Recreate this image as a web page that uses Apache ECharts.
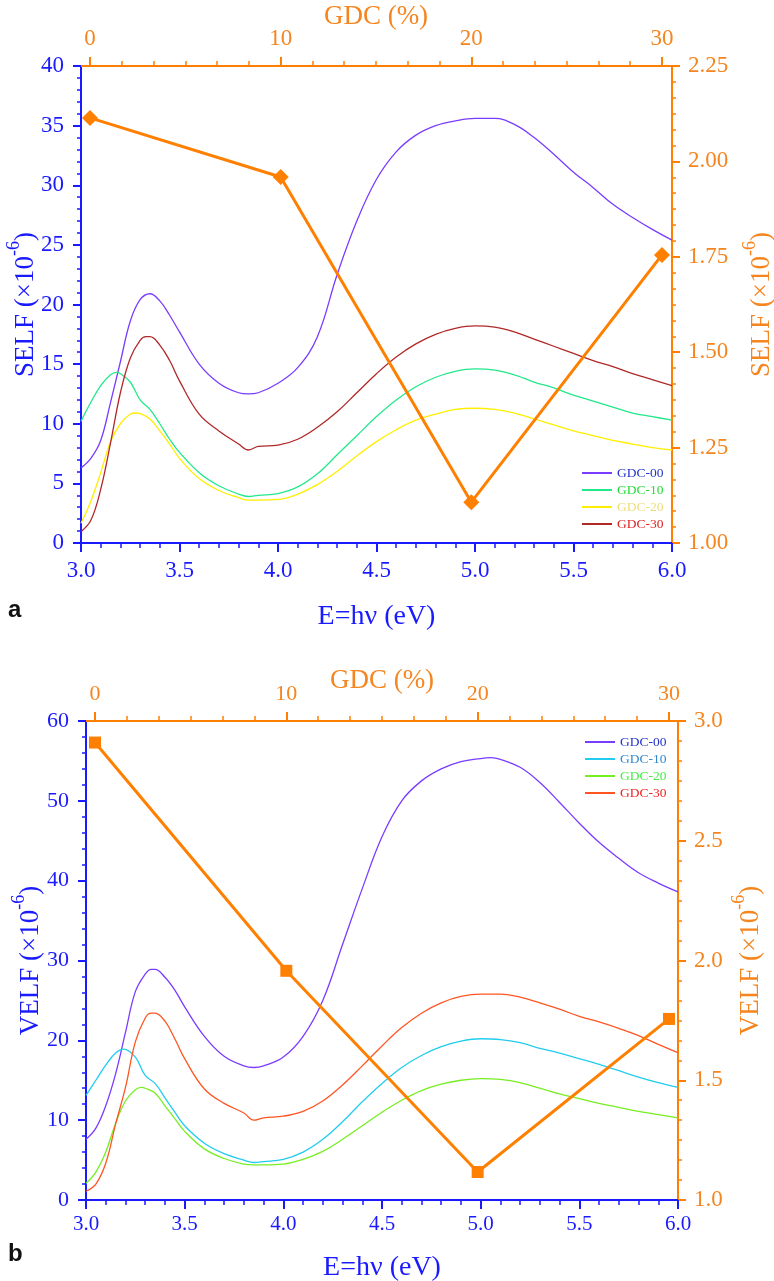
<!DOCTYPE html>
<html><head><meta charset="utf-8">
<script src="https://cdn.jsdelivr.net/npm/echarts@6/dist/echarts.min.js"></script>
<style>html,body{margin:0;padding:0;background:#fff}#c{width:774px;height:1281px}</style>
</head><body><div id="c"></div>
<script>
// ---------- data ----------
const gdcPct = [0, 10, 20, 30];
const selfGdc = [2.114, 1.959, 1.107, 1.755];
const velfGdc = [2.91, 1.957, 1.117, 1.756];

const eA00 = [3.0,3.05,3.1,3.15,3.2,3.25,3.3,3.35,3.4,3.45,3.5,3.6,3.7,3.8,3.85,3.9,4.0,4.1,4.2,4.3,4.4,4.5,4.6,4.7,4.8,4.9,5.0,5.1,5.2,5.3,5.4,5.5,5.6,5.7,5.8,5.9,6.0];
const selfA00 = [6.3,7.1,8.6,11.8,15.2,18.6,20.4,20.9,20.3,19.1,17.7,15.0,13.4,12.6,12.5,12.6,13.4,14.7,17.3,22.5,27.0,30.5,32.8,34.2,35.0,35.4,35.6,35.6,35.1,34.0,32.6,31.1,29.8,28.4,27.3,26.3,25.4];
const eA10 = [3.0,3.05,3.1,3.15,3.18,3.2,3.25,3.3,3.35,3.4,3.45,3.5,3.6,3.7,3.8,3.85,3.9,4.0,4.1,4.2,4.3,4.4,4.5,4.6,4.7,4.8,4.9,5.0,5.1,5.2,5.3,5.4,5.5,5.6,5.7,5.8,5.9,6.0];
const selfA10 = [10.2,11.8,13.2,14.1,14.3,14.2,13.5,12.0,11.2,10.0,8.7,7.6,5.9,4.8,4.1,3.9,4.0,4.15,4.7,5.8,7.4,9.0,10.6,12.0,13.1,13.9,14.4,14.6,14.5,14.1,13.5,13.0,12.4,11.9,11.4,10.9,10.6,10.3];
const eA20 = [3.0,3.05,3.1,3.15,3.2,3.25,3.28,3.3,3.35,3.4,3.45,3.5,3.6,3.7,3.8,3.85,3.9,4.0,4.1,4.2,4.3,4.4,4.5,4.6,4.7,4.8,4.9,5.0,5.1,5.2,5.3,5.4,5.5,5.6,5.7,5.8,5.9,6.0];
const selfA20 = [1.65,3.5,5.9,8.5,10.0,10.8,10.9,10.85,10.4,9.4,8.3,7.1,5.4,4.4,3.8,3.6,3.6,3.65,4.1,4.9,6.0,7.3,8.5,9.5,10.3,10.8,11.2,11.3,11.2,10.9,10.4,9.9,9.4,9.0,8.6,8.3,8.0,7.8];
const eA30 = [3.0,3.05,3.1,3.15,3.2,3.25,3.3,3.33,3.35,3.4,3.45,3.5,3.6,3.7,3.8,3.85,3.9,4.0,4.1,4.2,4.3,4.4,4.5,4.6,4.7,4.8,4.9,5.0,5.1,5.2,5.3,5.4,5.5,5.6,5.7,5.8,5.9,6.0];
const selfA30 = [0.95,1.9,4.5,8.4,12.6,15.5,17.0,17.3,17.3,16.6,15.3,13.6,10.8,9.4,8.3,7.8,8.1,8.2,8.7,9.7,11.0,12.6,14.2,15.6,16.7,17.5,18.0,18.2,18.1,17.7,17.1,16.5,15.9,15.3,14.8,14.2,13.7,13.2];

const eB00 = [3.0,3.05,3.1,3.15,3.2,3.25,3.3,3.33,3.35,3.4,3.45,3.5,3.6,3.7,3.8,3.85,3.9,4.0,4.1,4.2,4.3,4.4,4.5,4.6,4.7,4.8,4.9,5.0,5.05,5.1,5.2,5.3,5.4,5.5,5.6,5.7,5.8,5.9,6.0];
const velfB00 = [7.6,9.0,11.8,15.8,21.0,26.1,28.3,28.9,28.9,27.9,26.3,24.2,20.5,18.0,16.8,16.6,16.8,17.9,20.5,25.0,32.0,39.0,45.5,50.0,52.5,54.0,54.9,55.3,55.4,55.2,54.2,52.3,49.8,47.2,44.8,42.8,41.0,39.7,38.6];
const eB10 = [3.0,3.05,3.1,3.15,3.19,3.25,3.3,3.35,3.4,3.45,3.5,3.6,3.7,3.8,3.85,3.9,4.0,4.1,4.2,4.3,4.4,4.5,4.6,4.7,4.8,4.9,5.0,5.1,5.2,5.3,5.4,5.5,5.6,5.7,5.8,5.9,6.0];
const velfB10 = [13.1,15.0,16.9,18.4,18.9,17.9,15.6,14.6,12.8,11.0,9.3,7.1,5.8,5.0,4.7,4.8,5.1,6.0,7.6,9.8,12.3,14.6,16.6,18.1,19.2,19.9,20.2,20.1,19.7,19.0,18.4,17.7,17.0,16.2,15.4,14.7,14.1];
const eB20 = [3.0,3.05,3.1,3.15,3.2,3.25,3.28,3.3,3.35,3.4,3.45,3.5,3.6,3.7,3.8,3.85,3.9,4.0,4.1,4.2,4.3,4.4,4.5,4.6,4.7,4.8,4.9,5.0,5.1,5.2,5.3,5.4,5.5,5.6,5.7,5.8,5.9,6.0];
const velfB20 = [2.1,3.5,6.0,9.6,12.4,13.8,14.1,14.0,13.4,11.8,10.2,8.6,6.4,5.2,4.5,4.4,4.4,4.5,5.1,6.1,7.6,9.3,11.0,12.5,13.7,14.5,15.0,15.2,15.1,14.7,14.0,13.3,12.7,12.1,11.6,11.1,10.7,10.3];
const eB30 = [3.0,3.05,3.1,3.15,3.2,3.25,3.3,3.33,3.35,3.4,3.45,3.5,3.6,3.7,3.8,3.85,3.9,4.0,4.1,4.2,4.3,4.4,4.5,4.6,4.7,4.8,4.9,5.0,5.1,5.2,5.3,5.4,5.5,5.6,5.7,5.8,5.9,6.0];
const velfB30 = [1.1,2.0,4.6,9.5,14.1,19.8,22.8,23.4,23.4,22.4,20.2,17.7,13.9,12.1,10.9,10.0,10.3,10.5,11.1,12.4,14.4,16.8,19.3,21.6,23.4,24.7,25.5,25.8,25.8,25.4,24.7,23.9,23.0,22.3,21.5,20.6,19.5,18.45];

const legendNames = ['GDC-00','GDC-10','GDC-20','GDC-30'];

// ---------- styles ----------
const FONT = 'Liberation Serif';
const BLUE = '#1a1aff';
const ORANGE = '#ff8000';
const ORANGE_T = '#f5851f';
const colA = ['#7a3cff','#22e88a','#ffee00','#b02828'];
const txtA = ['#2233cc','#22dd33','#eedd77','#dd2222'];
const colB = ['#7a3cff','#22ccee','#77ee22','#ff5522'];
const txtB = ['#2233cc','#3388cc','#44ee44','#ee2222'];

function zip(xs, ys){ return xs.map((x,i)=>[x, ys[i]]); }

function bottomAxis(grid, fs, margin, gap){
  return {type:'value', gridIndex:grid, position:'bottom', min:3, max:6, interval:0.5,
    axisLine:{show:true, onZero:false, lineStyle:{color:BLUE, width:2}},
    axisTick:{show:true, length:9, lineStyle:{color:BLUE, width:2}},
    minorTick:{show:true, splitNumber:5, length:5, lineStyle:{color:BLUE, width:1.5}},
    splitLine:{show:false},
    axisLabel:{color:BLUE, fontFamily:FONT, fontSize:fs, margin:margin, formatter:v=>v.toFixed(1)},
    name:'E=hν (eV)', nameLocation:'middle', nameGap:gap, nameMoveOverlap:false,
    nameTextStyle:{color:BLUE, fontFamily:FONT, fontSize:28}};
}
function topLine(grid){
  return {type:'value', gridIndex:grid, position:'top', min:0, max:1,
    axisLine:{show:true, onZero:false, lineStyle:{color:ORANGE, width:2}},
    axisTick:{show:false}, axisLabel:{show:false}, splitLine:{show:false}};
}
function gdcAxis(grid, fs, margin, gap){
  return {type:'value', gridIndex:grid, position:'top', min:0, max:30, interval:10,
    axisLine:{show:false, onZero:false},
    axisTick:{show:true, length:9, lineStyle:{color:ORANGE, width:2}},
    minorTick:{show:true, splitNumber:6, length:5, lineStyle:{color:ORANGE, width:1.5}},
    splitLine:{show:false},
    axisLabel:{color:ORANGE_T, fontFamily:FONT, fontSize:fs, margin:margin},
    name:'GDC (%)', nameLocation:'middle', nameGap:gap, nameMoveOverlap:false,
    nameTextStyle:{color:ORANGE_T, fontFamily:FONT, fontSize:27}};
}
function richName(label, color){
  return {
    name:'{t|'+label+' (×10}{s|-6}{t|)}',
    nameTextStyle:{rich:{
      t:{color:color, fontFamily:FONT, fontSize:27, lineHeight:34, verticalAlign:'bottom'},
      s:{color:color, fontFamily:FONT, fontSize:18, lineHeight:18, verticalAlign:'top'}}}
  };
}
function leftAxis(grid, max, interval, minorSplit, label, fs, gap){
  return Object.assign({type:'value', gridIndex:grid, position:'left', min:0, max:max, interval:interval,
    axisLine:{show:true, onZero:false, lineStyle:{color:BLUE, width:2}},
    axisTick:{show:true, length:8, lineStyle:{color:BLUE, width:2}},
    minorTick:{show:true, splitNumber:minorSplit, length:4, lineStyle:{color:BLUE, width:1.5}},
    splitLine:{show:false},
    axisLabel:{color:BLUE, fontFamily:FONT, fontSize:fs, margin:17},
    nameLocation:'middle', nameGap:gap, nameRotate:90, nameMoveOverlap:false}, richName(label, BLUE));
}
function rightAxis(grid, min, max, interval, decimals, label, fs, gap){
  return Object.assign({type:'value', gridIndex:grid, position:'right', min:min, max:max, interval:interval,
    axisLine:{show:true, onZero:false, lineStyle:{color:ORANGE, width:2}},
    axisTick:{show:true, length:8, lineStyle:{color:ORANGE, width:2}},
    minorTick:{show:true, splitNumber:6, length:4, lineStyle:{color:ORANGE, width:1.5}},
    splitLine:{show:false},
    axisLabel:{color:ORANGE_T, fontFamily:FONT, fontSize:fs, margin:16, formatter:v=>v.toFixed(decimals)},
    nameLocation:'middle', nameGap:gap, nameRotate:90, nameMoveOverlap:false}, richName(label, ORANGE_T));
}
function hiddenY(grid, min, max){
  return {type:'value', gridIndex:grid, min:min, max:max, show:false, splitLine:{show:false}};
}
function curve(name, color, xi, yi, xs, ys){
  return {type:'line', name:name, xAxisIndex:xi, yAxisIndex:yi, data:zip(xs, ys),
    smooth:0.4, showSymbol:false, symbol:'none', color:color,
    lineStyle:{color:color, width:1.3}, silent:true, z:2};
}
function gdcLine(xi, yi, ys, symbol, size){
  return {type:'line', name:'gdc'+xi, xAxisIndex:xi, yAxisIndex:yi, data:zip(gdcPct, ys),
    symbol:symbol, symbolSize:size, showSymbol:true, color:ORANGE,
    itemStyle:{color:ORANGE}, lineStyle:{color:ORANGE, width:3}, silent:true, z:5};
}
function legend(prefix, txt, left, top){
  return {show:true, left:left, top:top, orient:'vertical', icon:'rect', itemWidth:30, itemHeight:2,
    itemGap:3, selectedMode:false, padding:0,
    formatter:n=>n.slice(prefix.length),
    data:legendNames.map((n,i)=>({name:prefix+n, textStyle:{color:txt[i]}})),
    textStyle:{fontFamily:FONT, fontSize:13.5, lineHeight:14}};
}

const option = {
  animation:false,
  backgroundColor:'#ffffff',
  grid:[
    {left:81, right:102, top:66, height:477, outerBoundsMode:'none', containLabel:false},
    {left:90, right:112, top:66, height:477, outerBoundsMode:'none', containLabel:false},
    {left:86, right:96, top:721, height:479, outerBoundsMode:'none', containLabel:false},
    {left:95, right:105, top:721, height:479, outerBoundsMode:'none', containLabel:false}
  ],
  xAxis:[
    bottomAxis(0, 23, 16, 60), topLine(0), gdcAxis(1, 23, 16, 36),
    bottomAxis(2, 21, 14, 54), topLine(2), gdcAxis(3, 22, 16, 27)
  ],
  yAxis:[
    leftAxis(0, 40, 5, 5, 'SELF', 23, 42),
    rightAxis(0, 1, 2.25, 0.25, 2, 'SELF', 23, 69),
    hiddenY(1, 1, 2.25),
    leftAxis(2, 60, 10, 5, 'VELF', 22, 42),
    rightAxis(2, 1, 3, 0.5, 1, 'VELF', 23, 52),
    hiddenY(3, 1, 3)
  ],
  legend:[legend('a-', txtA, 582, 466), legend('b-', txtB, 585, 735)],
  graphic:[
    {type:'text', left:8, top:598, style:{text:'a', fill:'#111', font:'bold 24px "Liberation Sans"'}},
    {type:'text', left:8, top:1242, style:{text:'b', fill:'#111', font:'bold 24px "Liberation Sans"'}}
  ],
  series:[
    curve('a-GDC-00', colA[0], 0, 0, eA00, selfA00),
    curve('a-GDC-10', colA[1], 0, 0, eA10, selfA10),
    curve('a-GDC-20', colA[2], 0, 0, eA20, selfA20),
    curve('a-GDC-30', colA[3], 0, 0, eA30, selfA30),
    gdcLine(2, 2, selfGdc, 'diamond', 16),
    curve('b-GDC-00', colB[0], 3, 3, eB00, velfB00),
    curve('b-GDC-10', colB[1], 3, 3, eB10, velfB10),
    curve('b-GDC-20', colB[2], 3, 3, eB20, velfB20),
    curve('b-GDC-30', colB[3], 3, 3, eB30, velfB30),
    gdcLine(5, 5, velfGdc, 'rect', 12)
  ]
};
const chart = echarts.init(document.getElementById('c'), null, {renderer:'canvas'});
chart.setOption(option);
</script></body></html>
